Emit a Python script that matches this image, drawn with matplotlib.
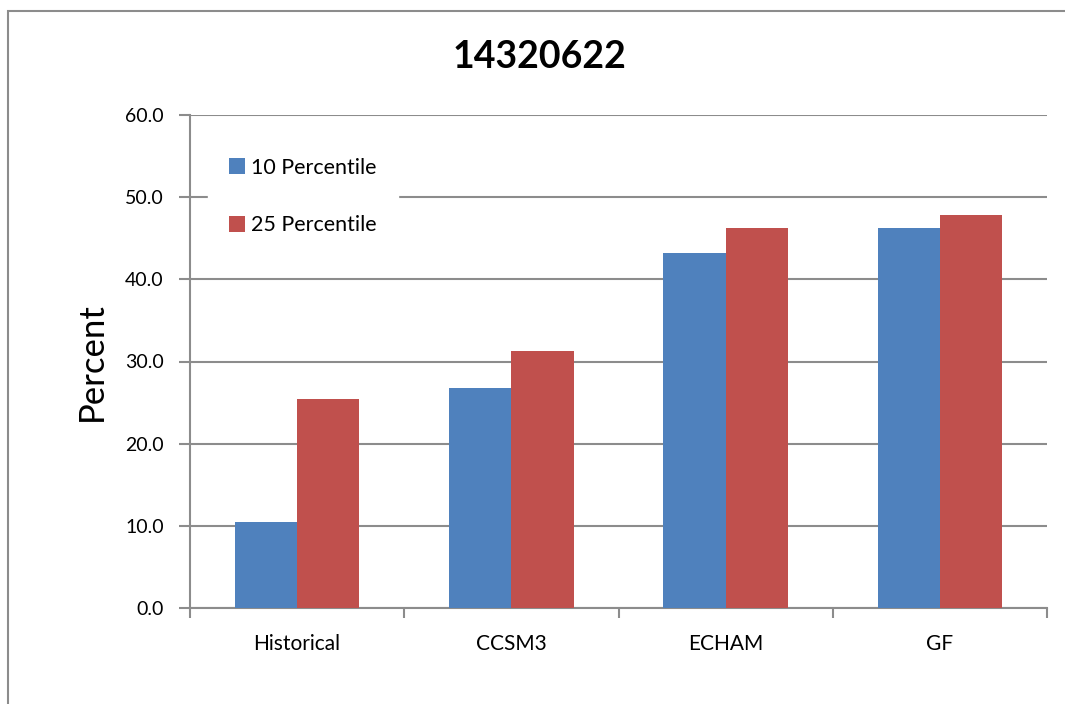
import matplotlib
matplotlib.use("Agg")
import matplotlib.pyplot as plt
from matplotlib.patches import Rectangle
import numpy as np

plt.rcParams["font.family"] = ["Lato", "DejaVu Sans"]

# data
categories = ["Historical", "CCSM3", "ECHAM", "GF"]
p10 = [10.5, 26.8, 43.2, 46.2]
p25 = [25.4, 31.3, 46.2, 47.8]
series_names = ["10 Percentile", "25 Percentile"]

C_BLUE = "#4F81BD"
C_RED = "#C0504D"
C_GRID = "#8c8c8c"

fig = plt.figure(figsize=(10.65, 7.04), dpi=100)
ax = fig.add_axes([190 / 1065, 96 / 704, 857 / 1065, 493 / 704])

# outer chart border
fig.patches.append(Rectangle((8 / 1065, -0.1), 1.2, (704 - 11) / 704 + 0.1,
                             transform=fig.transFigure, facecolor="none",
                             edgecolor=C_GRID, lw=1.5, zorder=0))

x = np.arange(len(categories))
w = 0.29
ax.bar(x - w / 2, p10, w, color=C_BLUE, label=series_names[0], zorder=3)
ax.bar(x + w / 2, p25, w, color=C_RED, label=series_names[1], zorder=3)

ax.set_xlim(-0.5, len(categories) - 0.5)
ax.set_ylim(0, 60)
ax.set_yticks(np.arange(0, 61, 10))
ax.set_yticklabels([f"{v:.1f}" for v in np.arange(0, 61, 10)], fontsize=14)
ax.yaxis.grid(True, color=C_GRID, lw=1.5, zorder=0)

ax.set_xticks(np.arange(-0.5, len(categories), 1.0))
ax.set_xticklabels([])
ax.set_xticks(x, minor=True)
ax.set_xticklabels(categories, minor=True, fontsize=15)
ax.tick_params(axis="x", which="major", length=7, width=1.5, color=C_GRID)
ax.tick_params(axis="x", which="minor", length=0, pad=19)
ax.tick_params(axis="y", length=8, width=1.5, color=C_GRID, pad=11)

for s in ["top", "right"]:
    ax.spines[s].set_visible(False)
for s in ["left", "bottom"]:
    ax.spines[s].set_color(C_GRID)
    ax.spines[s].set_linewidth(1.5)

ax.set_ylabel("Percent", fontsize=25, labelpad=12)
fig.text(540 / 1065, 1 - 57 / 704, "14320622", fontsize=27, fontweight="bold",
         ha="center", va="center")

leg = ax.legend(loc="upper left", bbox_to_anchor=(0.008, 0.979), frameon=True,
                fontsize=15.5, handlelength=0.75, handleheight=0.75,
                handletextpad=0.25, labelspacing=1.75, borderpad=1.0,
                fancybox=False)
leg.get_frame().set_edgecolor("white")
leg.get_frame().set_facecolor("white")
leg.get_frame().set_alpha(1.0)
leg.set_zorder(5)

fig.savefig("out.png", dpi=100)
